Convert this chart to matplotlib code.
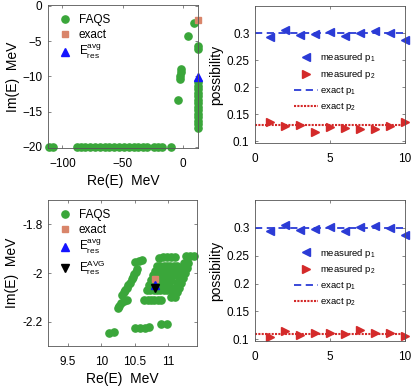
import matplotlib
matplotlib.use("Agg")
import matplotlib.pyplot as plt

plt.rcParams['font.family'] = ['Liberation Sans', 'DejaVu Sans']
plt.rcParams['mathtext.fontset'] = 'custom'
plt.rcParams['mathtext.rm'] = 'Liberation Sans'
plt.rcParams['mathtext.it'] = 'Liberation Sans'

# ---- data: top-left (complex energies, wide view) ----
top_re = [-111, -107.5, -88, -84.5, -81, -77, -73, -69, -65, -61, -57, -53, -49,
          -45, -41, -37, -33, -30, -24, -20.5, -17.5, -10,
          -4.4, -2.5, -2.3, -2.0, -1.8, 4, 9, 12.5, 12.5,
          12.5, 12.5, 12.5, 12.5, 12.5, 12.5, 12.5, 12.5, 12.5, 12.5, 12.5, 12.5, 12.5, 12.5]
top_im = [-20, -20, -20, -20, -20, -20, -20, -20, -20, -20, -20, -20, -20,
          -20, -20, -20, -20, -20, -20, -20, -20, -20,
          -13.4, -10.4, -9.9, -9.4, -9.0, -4.25, -2.45, -5.7, -6.2,
          -10.8, -11.3, -11.8, -12.3, -12.8, -13.3, -13.8, -14.3, -14.8, -15.3, -15.8, -16.3, -16.8, -17.3]
top_exact = (12.5, -2.0)
top_avg = (12.5, -10.1)

# ---- data: bottom-left (zoomed view) ----
bot_re = [10.53, 10.51, 10.49, 10.47, 10.45, 10.42, 10.40, 10.38, 10.35, 10.33, 10.31,
          10.38, 10.34, 10.30, 10.27, 10.25,
          10.50, 10.56, 10.60,
          10.83, 10.88, 10.93, 10.98, 11.03, 11.08, 11.13,
          10.80, 10.85, 10.90, 10.95, 11.00, 11.05, 11.10,
          10.77, 10.82, 10.87, 10.92, 10.97, 11.02, 11.07,
          10.74, 10.79, 10.84, 10.89, 10.94, 10.99, 11.04,
          10.71, 10.76, 10.81, 10.86, 10.91, 10.96, 11.01,
          10.68, 10.73, 10.78, 10.83, 10.88, 10.93, 10.98,
          10.64, 10.69, 10.74, 10.79, 10.84, 10.89,
          10.86, 10.92, 10.98, 11.04, 11.10, 11.27, 11.33, 11.38,
          11.30, 11.28, 11.25, 11.22, 11.19, 11.16, 11.13, 11.10,
          11.24, 11.22, 11.19, 11.16, 11.13, 11.10, 11.07, 11.04,
          10.12, 10.19, 10.50, 10.58, 10.65, 10.71, 10.89, 10.98]
bot_im = [-1.985, -1.995, -2.005, -2.015, -2.025, -2.04, -2.05, -2.06, -2.07, -2.08, -2.09,
          -2.11, -2.115, -2.125, -2.135, -2.145,
          -1.953, -1.950, -1.948,
          -1.97, -1.97, -1.97, -1.97, -1.97, -1.97, -1.97,
          -1.99, -1.99, -1.99, -1.99, -1.99, -1.99, -1.99,
          -2.01, -2.01, -2.01, -2.01, -2.01, -2.01, -2.01,
          -2.03, -2.03, -2.03, -2.03, -2.03, -2.03, -2.03,
          -2.05, -2.05, -2.05, -2.05, -2.05, -2.05, -2.05,
          -2.07, -2.07, -2.07, -2.07, -2.07, -2.07, -2.07,
          -2.11, -2.11, -2.11, -2.11, -2.11, -2.11,
          -1.937, -1.936, -1.935, -1.934, -1.933, -1.932, -1.932, -1.931,
          -1.96, -1.98, -2.00, -2.02, -2.04, -2.06, -2.08, -2.10,
          -1.96, -1.98, -2.00, -2.02, -2.04, -2.06, -2.08, -2.10,
          -2.246, -2.244, -2.228, -2.227, -2.225, -2.223, -2.211, -2.210]
bot_exact = (10.8, -2.025)
bot_avg = (10.8, -2.05)
bot_AVG = (10.8, -2.062)

# ---- data: right panels (possibilities) ----
runs = [1, 2, 3, 4, 5, 6, 7, 8, 9, 10]
p1_top = [0.2927, 0.306, 0.297, 0.299, 0.302, 0.2945, 0.3006, 0.303, 0.300, 0.288]
p2_top = [0.136, 0.129, 0.130, 0.118, 0.126, 0.124, 0.123, 0.122, 0.128, 0.136]
p1_exact_top = 0.3
p2_exact_top = 0.13
p1_bot = [0.294, 0.305, 0.297, 0.298, 0.302, 0.295, 0.302, 0.303, 0.3006, 0.288]
p2_bot = [0.104, 0.1155, 0.1075, 0.111, 0.111, 0.109, 0.116, 0.111, 0.111, 0.106]
p1_exact_bot = 0.3
p2_exact_bot = 0.11

green = '#3aa63a'
salmon = '#d9856a'
blue = '#1414ff'
mblue = '#2b3bd6'
mred = '#d42a2a'
axcol = '#555555'
W, H = 415, 389


def style(ax):
    ax.tick_params(direction='in', top=True, right=True, labelsize=8.5,
                   length=2.5, width=0.5, color=axcol)
    ax.tick_params(axis='x', pad=7)
    ax.tick_params(axis='y', pad=4)
    for s in ax.spines.values():
        s.set_color(axcol)
        s.set_linewidth(0.6)


def energy_panel(ax, re, im, exact, avg, AVG=None):
    ax.plot(re, im, 'o', color=green, ms=5.2, mec=green, clip_on=False,
            ls='none', label='FAQS')
    ax.plot([exact[0]], [exact[1]], 's', color=salmon, ms=4.8, clip_on=False,
            ls='none', label='exact')
    ax.plot([avg[0]], [avg[1]], '^', color=blue, ms=5.5, clip_on=False,
            ls='none', label=r'E$_{\mathrm{res}}^{\mathrm{avg}}$')
    if AVG is not None:
        ax.plot([AVG[0]], [AVG[1]], 'v', color='black', ms=5.5, clip_on=False,
                ls='none', label=r'E$_{\mathrm{res}}^{\mathrm{AVG}}$')
    ax.set_xlabel('Re(E)  MeV', fontsize=10, labelpad=3)
    ax.set_ylabel('Im(E)  MeV', fontsize=10, labelpad=2)
    style(ax)
    ax.legend(loc='upper left', frameon=False, fontsize=8.5, handletextpad=0.6,
              borderaxespad=0.4, labelspacing=0.2, handlelength=1.2)


def prob_panel(ax, p1, p2, e1, e2):
    ax.plot(runs, p1, '<', color=mblue, ms=6, ls='none', clip_on=False,
            label=r'measured p$_1$')
    ax.plot(runs, p2, '>', color=mred, ms=6, ls='none', clip_on=False,
            label=r'measured p$_2$')
    ax.axhline(e1, color=mblue, ls=(0, (4, 2.5)), lw=1.3, label=r'exact p$_1$')
    ax.axhline(e2, color=mred, ls=(0, (1, 0.6)), lw=1.5, label=r'exact p$_2$')
    ax.set_xlim(0, 10)
    ax.set_ylim(0.097, 0.35)
    ax.set_xticks([0, 5, 10])
    ax.set_yticks([0.1, 0.15, 0.2, 0.25, 0.3])
    ax.set_yticklabels(['0.1', '0.15', '0.2', '0.25', '0.3'])
    ax.set_ylabel('possibility', fontsize=10, labelpad=2)
    style(ax)
    ax.legend(loc='upper left', bbox_to_anchor=(0.2, 0.73), frameon=False,
              fontsize=6.8, handlelength=2.6, handletextpad=0.2,
              labelspacing=0.4)


fig = plt.figure(figsize=(W / 100, H / 100), dpi=100)

ax1 = fig.add_axes([48 / W, 1 - 148 / H, 150 / W, 143 / H])
energy_panel(ax1, top_re, top_im, top_exact, top_avg)
ax1.set_xlim(-112, 12.5)
ax1.set_ylim(-20.15, 0.1)
ax1.set_xticks([-100, -50, 0])
ax1.set_yticks([-20, -15, -10, -5, 0])

ax2 = fig.add_axes([255 / W, 1 - 143 / H, 150 / W, 137 / H])
prob_panel(ax2, p1_top, p2_top, p1_exact_top, p2_exact_top)

ax3 = fig.add_axes([48 / W, 1 - 346 / H, 149 / W, 146 / H])
energy_panel(ax3, bot_re, bot_im, bot_exact, bot_avg, bot_AVG)
ax3.set_xlim(9.2, 11.43)
ax3.set_ylim(-2.3, -1.7)
ax3.set_xticks([9.5, 10, 10.5, 11])
ax3.set_xticklabels(['9.5', '10', '10.5', '11'])
ax3.set_yticks([-2.2, -2, -1.8])
ax3.set_yticklabels(['-2.2', '-2', '-1.8'])

ax4 = fig.add_axes([255 / W, 1 - 341 / H, 150 / W, 141 / H])
prob_panel(ax4, p1_bot, p2_bot, p1_exact_bot, p2_exact_bot)

fig.savefig('out.png', dpi=100)
